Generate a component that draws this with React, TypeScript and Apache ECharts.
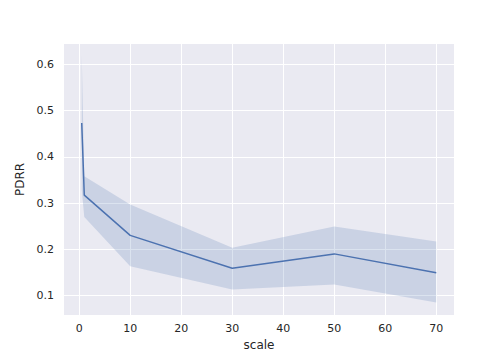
import React, { useEffect, useRef } from "react";
import * as echarts from "echarts";

const scales = [0.5, 1, 10, 30, 50, 70];
const pdrrMean = [0.473, 0.317, 0.23, 0.159, 0.19, 0.149];
const pdrrUpper = [0.619, 0.358, 0.297, 0.203, 0.249, 0.217];
const pdrrLower = [0.33, 0.27, 0.163, 0.113, 0.124, 0.085];
const xTicks = [0, 10, 20, 30, 40, 50, 60, 70];
const yTicks = [0.1, 0.2, 0.3, 0.4, 0.5, 0.6];

export default function App() {
  const ref = useRef<HTMLDivElement>(null);
  useEffect(() => {
    document.body.style.margin = "0";
    const chart = echarts.init(ref.current!, null, { renderer: "svg" });
    const text = "#262626";
    const font = "DejaVu Sans";
    const bandPoly = [
      ...scales.map((x, i) => [x, pdrrUpper[i]]),
      ...scales.map((x, i) => [x, pdrrLower[i]]).reverse(),
    ];
    chart.setOption({
      animation: false,
      backgroundColor: "#ffffff",
      grid: { left: 64, right: 50, top: 44, bottom: 45, show: true, backgroundColor: "#EAEAF2", borderWidth: 0 },
      xAxis: {
        type: "value",
        min: -2.975,
        max: 73.475,
        name: "scale",
        nameLocation: "middle",
        nameGap: 23,
        nameTextStyle: { color: text, fontFamily: font, fontSize: 12 },
        axisLine: { show: false },
        axisTick: { show: false, customValues: xTicks },
        axisLabel: { customValues: xTicks, color: text, fontFamily: font, fontSize: 11, margin: 8 },
        splitLine: { show: true, lineStyle: { color: "#ffffff", width: 1 } },
      },
      yAxis: {
        type: "value",
        min: 0.0578,
        max: 0.644,
        name: "PDRR",
        nameLocation: "middle",
        nameGap: 33,
        nameTextStyle: { color: text, fontFamily: font, fontSize: 12 },
        axisLine: { show: false },
        axisTick: { show: false, customValues: yTicks },
        axisLabel: { customValues: yTicks, color: text, fontFamily: font, fontSize: 11, margin: 10, formatter: (v: number) => v.toFixed(1) },
        splitLine: { show: true, lineStyle: { color: "#ffffff", width: 1 } },
      },
      series: [
        {
          type: "custom",
          silent: true,
          data: [0],
          z: 1,
          renderItem: (params: any, api: any) => ({
            type: "polygon",
            shape: { points: bandPoly.map((p) => api.coord(p)) },
            style: { fill: "rgba(76,114,176,0.2)", stroke: "none" },
          }),
        },
        {
          type: "line",
          data: scales.map((x, i) => [x, pdrrMean[i]]),
          showSymbol: false,
          z: 2,
          lineStyle: { color: "#4C72B0", width: 1.5 },
        },
      ],
    });
    return () => chart.dispose();
  }, []);
  return <div ref={ref} style={{ width: 504, height: 360 }} />;
}
